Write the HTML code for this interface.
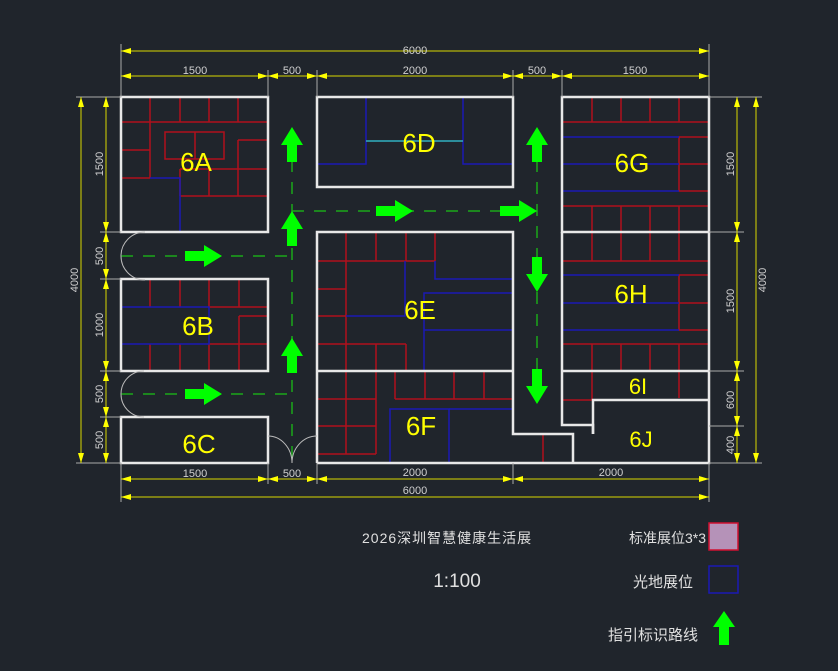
<!DOCTYPE html>
<html><head><meta charset="utf-8"><style>
html,body{margin:0;padding:0;background:#20252c;}
svg{display:block}
text{font-family:"Liberation Sans","Noto Sans CJK SC",sans-serif;}
</style></head><body>
<svg width="838" height="671" viewBox="0 0 838 671" xmlns="http://www.w3.org/2000/svg">
<defs>
<marker id="ae" viewBox="0 0 10 6" refX="10" refY="3" markerWidth="10" markerHeight="6" markerUnits="userSpaceOnUse" orient="auto"><path d="M0,0L10,3L0,6Z" fill="#ffff00"/></marker>
<marker id="as" viewBox="0 0 10 6" refX="0" refY="3" markerWidth="10" markerHeight="6" markerUnits="userSpaceOnUse" orient="auto"><path d="M10,0L0,3L10,6Z" fill="#ffff00"/></marker>
<g id="up"><polygon points="0,0 11,18 5,18 5,35 -5,35 -5,18 -11,18" fill="#00ff00"/></g>
<g id="dn"><polygon points="0,0 11,-18 5,-18 5,-35 -5,-35 -5,-18 -11,-18" fill="#00ff00"/></g>
<g id="rt"><polygon points="0,0 -18,-11 -18,-5 -37,-5 -37,5 -18,5 -18,11" fill="#00ff00"/></g>
</defs>
<rect width="838" height="671" fill="#20252c"/>

<g stroke="#1aa81a" stroke-width="1.5" stroke-dasharray="12,10" fill="none">
<line x1="292" y1="160" x2="292" y2="463"/>
<line x1="292" y1="211" x2="537" y2="211"/>
<line x1="121" y1="256" x2="292" y2="256"/>
<line x1="121" y1="394" x2="292" y2="394"/>
<line x1="537" y1="160" x2="537" y2="400"/>
</g>

<g stroke="#b0101c" stroke-width="1.5" fill="none">
<line x1="121" y1="122" x2="268" y2="122"/>
<line x1="150" y1="97" x2="150" y2="178"/><line x1="180" y1="97" x2="180" y2="122"/><line x1="209" y1="97" x2="209" y2="122"/><line x1="238" y1="97" x2="238" y2="122"/>
<line x1="121" y1="150" x2="150" y2="150"/><line x1="121" y1="178" x2="150" y2="178"/>
<rect x="165" y="132" width="59" height="27"/><line x1="195" y1="132" x2="195" y2="159"/>
<line x1="238" y1="140" x2="268" y2="140"/><line x1="238" y1="140" x2="238" y2="196"/>
<line x1="180" y1="169" x2="268" y2="169"/><line x1="180" y1="196" x2="268" y2="196"/>
<line x1="180" y1="169" x2="180" y2="196"/><line x1="209" y1="169" x2="209" y2="196"/>
<line x1="150" y1="279" x2="150" y2="307"/><line x1="180" y1="279" x2="180" y2="307"/><line x1="209" y1="279" x2="209" y2="307"/><line x1="239" y1="279" x2="239" y2="307"/>
<line x1="150" y1="344" x2="150" y2="371"/><line x1="180" y1="344" x2="180" y2="371"/><line x1="209" y1="344" x2="209" y2="371"/><line x1="239" y1="344" x2="239" y2="371"/>
<line x1="209" y1="307" x2="268" y2="307"/><line x1="209" y1="344" x2="268" y2="344"/>
<line x1="239" y1="316" x2="268" y2="316"/><line x1="239" y1="316" x2="239" y2="344"/>
<line x1="317" y1="261" x2="435" y2="261"/>
<line x1="346" y1="232" x2="346" y2="371"/><line x1="376" y1="232" x2="376" y2="261"/><line x1="406" y1="232" x2="406" y2="261"/><line x1="435" y1="232" x2="435" y2="261"/>
<line x1="317" y1="289" x2="346" y2="289"/><line x1="317" y1="316" x2="346" y2="316"/>
<line x1="317" y1="344" x2="406" y2="344"/><line x1="376" y1="344" x2="376" y2="371"/><line x1="406" y1="344" x2="406" y2="371"/>
<line x1="346" y1="371" x2="346" y2="454"/><line x1="376" y1="371" x2="376" y2="454"/>
<line x1="317" y1="399" x2="376" y2="399"/><line x1="317" y1="426" x2="376" y2="426"/><line x1="317" y1="454" x2="376" y2="454"/>
<line x1="395" y1="371" x2="395" y2="399"/><line x1="395" y1="399" x2="513" y2="399"/>
<line x1="425" y1="371" x2="425" y2="399"/><line x1="454" y1="371" x2="454" y2="399"/><line x1="484" y1="371" x2="484" y2="399"/>
<line x1="543" y1="434" x2="543" y2="463"/>
<line x1="562" y1="122" x2="709" y2="122"/>
<line x1="592" y1="97" x2="592" y2="122"/><line x1="621" y1="97" x2="621" y2="122"/><line x1="650" y1="97" x2="650" y2="122"/><line x1="679" y1="97" x2="679" y2="122"/>
<rect x="679" y="137" width="30" height="54"/><line x1="679" y1="164" x2="709" y2="164"/>
<line x1="562" y1="206" x2="709" y2="206"/>
<line x1="592" y1="206" x2="592" y2="232"/><line x1="621" y1="206" x2="621" y2="232"/><line x1="650" y1="206" x2="650" y2="232"/><line x1="679" y1="206" x2="679" y2="232"/>
<line x1="562" y1="261" x2="709" y2="261"/>
<line x1="592" y1="232" x2="592" y2="261"/><line x1="621" y1="232" x2="621" y2="261"/><line x1="650" y1="232" x2="650" y2="261"/><line x1="679" y1="232" x2="679" y2="261"/>
<rect x="679" y="275" width="30" height="55"/><line x1="679" y1="303" x2="709" y2="303"/>
<line x1="562" y1="344" x2="709" y2="344"/>
<line x1="592" y1="344" x2="592" y2="400"/><line x1="621" y1="344" x2="621" y2="371"/><line x1="650" y1="344" x2="650" y2="371"/><line x1="679" y1="344" x2="679" y2="398"/>
<line x1="562" y1="400" x2="593" y2="400"/>
</g>

<g stroke="#1a1ab4" stroke-width="1.5" fill="none">
<polyline points="150,178 180,178 180,232"/>
<polyline points="317,164 366,164 366,97"/>
<polyline points="463,97 463,164 513,164"/>
<line x1="562" y1="137" x2="679" y2="137"/><line x1="562" y1="164" x2="679" y2="164"/><line x1="562" y1="191" x2="679" y2="191"/>
<line x1="562" y1="275" x2="679" y2="275"/><line x1="562" y1="303" x2="679" y2="303"/><line x1="562" y1="330" x2="679" y2="330"/>
<polyline points="121,307 209,307 209,344 121,344"/>
<polyline points="435,261 435,279 513,279"/>
<polyline points="405,261 405,316 346,316"/>
<polyline points="424,371 424,293 513,293"/>
<line x1="424" y1="330" x2="513" y2="330"/>
<polyline points="390,463 390,409 449,409 449,463"/>
<line x1="449" y1="409" x2="513" y2="409"/>
</g>
<line x1="366" y1="141" x2="463" y2="141" stroke="#30b0c0" stroke-width="1.5"/>

<g stroke="#e8e8e8" stroke-width="2.5" fill="none">
<rect x="121" y="97" width="147" height="135"/>
<rect x="317" y="97" width="196" height="90"/>
<rect x="562" y="97" width="147" height="135"/>
<rect x="121" y="279" width="147" height="92"/>
<rect x="121" y="417" width="147" height="46"/>
<polyline points="317,463 317,232 513,232 513,434 573,434 573,463"/>
<line x1="317" y1="371" x2="513" y2="371"/>
<line x1="317" y1="463" x2="573" y2="463"/>
<polyline points="562,232 562,425 593,425 593,434"/>
<line x1="562" y1="371" x2="709" y2="371"/>
<polyline points="593,434 593,400 709,400"/>
<polyline points="573,463 709,463 709,232"/>
</g>
<g stroke="#bbbbbb" stroke-width="1" fill="none">
<path d="M121,256 A24,24 0 0 1 145,232"/><path d="M121,256 A24,24 0 0 0 145,280"/>
<path d="M121,394 A23,23 0 0 1 144,371"/><path d="M121,394 A23,23 0 0 0 144,417"/>
<path d="M268,436 A24,27 0 0 1 292,463"/><path d="M317,436 A25,27 0 0 0 292,463"/>
</g>

<use href="#up" x="292" y="127"/><use href="#up" x="292" y="211"/><use href="#up" x="292" y="338"/>
<use href="#up" x="537" y="127"/>
<use href="#rt" x="222" y="256"/><use href="#rt" x="413" y="211"/><use href="#rt" x="537" y="211"/><use href="#rt" x="222" y="394"/>
<use href="#dn" x="537" y="292"/><use href="#dn" x="537" y="404"/>

<g fill="#ffff00" font-size="26" text-anchor="middle">
<text x="196" y="171">6A</text><text x="419" y="152">6D</text><text x="632" y="172">6G</text>
<text x="198" y="335">6B</text><text x="420" y="319">6E</text><text x="631" y="303">6H</text>
<text x="199" y="453">6C</text><text x="421" y="435">6F</text>
<text x="638" y="394" font-size="22">6I</text><text x="641" y="447" font-size="22">6J</text>
</g>

<g stroke="#aaaaaa" stroke-width="1">
<line x1="121" y1="44" x2="121" y2="97"/><line x1="709" y1="44" x2="709" y2="97"/>
<line x1="268" y1="70" x2="268" y2="97"/><line x1="317" y1="70" x2="317" y2="97"/><line x1="513" y1="70" x2="513" y2="97"/><line x1="562" y1="70" x2="562" y2="97"/>
<line x1="76" y1="97" x2="121" y2="97"/><line x1="76" y1="463" x2="121" y2="463"/>
<line x1="100" y1="232" x2="121" y2="232"/><line x1="100" y1="279" x2="121" y2="279"/><line x1="100" y1="371" x2="121" y2="371"/><line x1="100" y1="417" x2="121" y2="417"/>
<line x1="709" y1="97" x2="762" y2="97"/><line x1="709" y1="463" x2="762" y2="463"/>
<line x1="709" y1="232" x2="744" y2="232"/><line x1="709" y1="371" x2="744" y2="371"/><line x1="709" y1="426" x2="744" y2="426"/>
<line x1="121" y1="463" x2="121" y2="502"/><line x1="709" y1="463" x2="709" y2="502"/>
<line x1="268" y1="463" x2="268" y2="484"/><line x1="317" y1="463" x2="317" y2="484"/><line x1="513" y1="463" x2="513" y2="484"/>
</g>
<g stroke="#d8d800" stroke-width="1" marker-start="url(#as)" marker-end="url(#ae)">
<line x1="121" y1="51" x2="709" y2="51"/>
<line x1="121" y1="76" x2="268" y2="76"/><line x1="268" y1="76" x2="317" y2="76"/><line x1="317" y1="76" x2="513" y2="76"/><line x1="513" y1="76" x2="562" y2="76"/><line x1="562" y1="76" x2="709" y2="76"/>
<line x1="81" y1="97" x2="81" y2="463"/>
<line x1="106" y1="97" x2="106" y2="232"/><line x1="106" y1="232" x2="106" y2="279"/><line x1="106" y1="279" x2="106" y2="371"/><line x1="106" y1="371" x2="106" y2="417"/><line x1="106" y1="417" x2="106" y2="463"/>
<line x1="737" y1="97" x2="737" y2="232"/><line x1="737" y1="232" x2="737" y2="371"/><line x1="737" y1="371" x2="737" y2="426"/><line x1="737" y1="426" x2="737" y2="463"/>
<line x1="756" y1="97" x2="756" y2="463"/>
<line x1="121" y1="479" x2="268" y2="479"/><line x1="268" y1="479" x2="317" y2="479"/><line x1="317" y1="479" x2="513" y2="479"/><line x1="513" y1="479" x2="709" y2="479"/>
<line x1="121" y1="497" x2="709" y2="497"/>
</g>
<g fill="#d0d0d0" font-size="11" text-anchor="middle">
<text x="415" y="54">6000</text>
<text x="195" y="74">1500</text><text x="292" y="74">500</text><text x="415" y="74">2000</text><text x="537" y="74">500</text><text x="635" y="74">1500</text>
<text x="195" y="477">1500</text><text x="292" y="477">500</text><text x="415" y="476">2000</text><text x="611" y="476">2000</text>
<text x="415" y="494">6000</text>
<text transform="translate(78,280) rotate(-90)">4000</text>
<text transform="translate(103,164) rotate(-90)">1500</text>
<text transform="translate(103,256) rotate(-90)">500</text>
<text transform="translate(103,325) rotate(-90)">1000</text>
<text transform="translate(103,394) rotate(-90)">500</text>
<text transform="translate(103,440) rotate(-90)">500</text>
<text transform="translate(734,164) rotate(-90)">1500</text>
<text transform="translate(734,301) rotate(-90)">1500</text>
<text transform="translate(734,400) rotate(-90)">600</text>
<text transform="translate(734,445) rotate(-90)">400</text>
<text transform="translate(766,280) rotate(-90)">4000</text>
</g>

<g fill="#e0e0e0">
<text x="362" y="543" font-size="14" letter-spacing="1">2026深圳智慧健康生活展</text>
<text x="457" y="587" font-size="19" text-anchor="middle">1:100</text>
<text x="706" y="543" font-size="14" text-anchor="end">标准展位3*3</text>
<text x="693" y="587" font-size="15" text-anchor="end">光地展位</text>
<text x="698" y="640" font-size="15" text-anchor="end">指引标识路线</text>
</g>
<rect x="709" y="523" width="29" height="27" fill="#b592b8" stroke="#d01030" stroke-width="1.5"/>
<rect x="709" y="566" width="29" height="27" fill="none" stroke="#1a1ab4" stroke-width="1.5"/>
<polygon points="724,611 735,627 729,627 729,645 719,645 719,627 713,627" fill="#00ff00"/>
</svg>
</body></html>
